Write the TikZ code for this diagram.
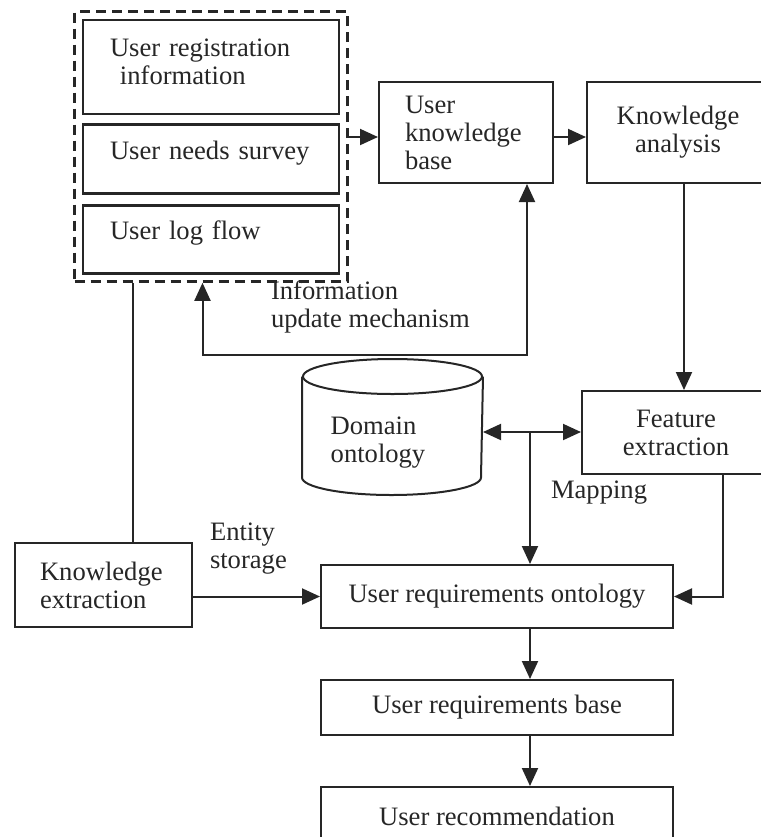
\documentclass[tikz,border=0pt]{standalone}
\usepackage{fontspec}
\setmainfont{Liberation Serif}
\usetikzlibrary{arrows.meta,positioning,fit,calc}

\begin{document}
\begin{tikzpicture}[x=0.5pt,y=0.5pt,>={Triangle[length=9pt,width=8pt]},
  line width=1pt,color=black!85,node distance=25pt,
  font=\fontsize{13.3}{14}\selectfont,
  main node/.style={draw,rectangle,inner sep=0pt,align=center},
  left node/.style={main node,align=left,inner xsep=#1},
  source node/.style={left node=13.5pt,text width=101pt,line width=1.3pt,text depth=9pt},
  group node/.style={draw,dashed,dash pattern=on 5pt off 3pt,line width=1.3pt,inner sep=3.5pt},
  label node/.style={align=left,inner sep=0pt,anchor=west}]
  \useasboundingbox (0,0) rectangle (761,-837);
  \clip (0,0) rectangle (761,-837);

  % user data sources
  \node[source node,minimum height=47pt,text depth=19pt] (reg) at (211,-67)
    {User registration\\\hspace{5pt}information};
  \node[source node,minimum height=34.5pt] (needs) [below=4pt of reg]
    {User needs survey};
  \node[source node,minimum height=34pt] (logf) [below=4.5pt of needs]
    {User log flow};
  \node[group node,fit=(reg)(logf)] (group) {};

  % knowledge chain
  \node[left node=13pt,text width=61pt,minimum height=50.5pt] (ukb) at (466,-132.5)
    {User\\knowledge\\base};
  \node[main node,minimum width=91pt,minimum height=50.5pt] (ka) at (678,-132.5)
    {Knowledge\\analysis};
  \node[main node,minimum width=94pt,minimum height=41.5pt] (fe) at (676,-432.5)
    {Feature\\extraction};

  % domain ontology
  \node[minimum width=89.5pt,minimum height=67pt,inner sep=0pt] (dom) at (392.5,-427) {};
  \draw ($(dom.north)+(0,-17.5)$) ellipse [x radius=89.5,y radius=17.5];
  \draw ($(dom.north west)+(0,-17.5)$) -- ($(dom.south west)+(0,17.5)$)
    arc [start angle=180,end angle=360,x radius=89.5,y radius=17.5]
    -- ($(dom.north east)+(0,-17.5)$);
  \node[align=left,inner sep=0pt] (domtext) at (378,-443) {Domain\\ontology};

  % requirements chain
  \node[left node=12.5pt,text width=63.5pt,minimum height=42pt] (kex) at (103.5,-585)
    {Knowledge\\extraction};
  \node[main node,minimum width=176pt,minimum height=31.5pt] (uro) at (497,-596.5)
    {User requirements ontology};
  \node[main node,minimum width=176pt,minimum height=27.5pt] (urb) [below=of uro]
    {User requirements base};
  \node[main node,minimum width=176pt,minimum height=29pt] (urr) [below=of urb]
    {User recommendation};

  \coordinate (map) at (530,-432);
  \coordinate (grpout) at (346,-137);
  \coordinate (kaout) at ($(ka.south)+(6,0)$);
  \coordinate (feout) at ($(fe.south)+(47,0)$);
  \coordinate (kexout) at ($(kex.north)+(29.5,0)$);
  \coordinate (updin) at ($(group.south)+(-8.5,0)$);
  \coordinate (ukbin) at ($(ukb.south)+(61,0)$);

  % connectors
  \draw[->] (grpout) -- (grpout -| ukb.west);
  \draw[->] (grpout -| ukb.east) -- (grpout -| ka.west);
  \draw[->] (kaout) -- (kaout |- fe.north);
  \draw[<->] (updin) -- ++(0,-72) -| (ukbin);
  \draw[->] (map) -- (map -| dom.east);
  \draw[->] (map) -- (map -| fe.west);
  \draw[->] (map) -- (map |- uro.north);
  \draw[->] (feout) |- (uro.east);
  \draw (kexout) -- (kexout |- group.south);
  \draw[->] (kex.east |- uro.west) -- (uro.west);
  \draw[->] (map |- uro.south) -- (map |- urb.north);
  \draw[->] (map |- urb.south) -- (map |- urr.north);

  % connector labels
  \node[label node] (upd) at (270,-306.5) {Information\\update mechanism};
  \node[label node] (mapl) at (550,-493) {Mapping};
  \node[label node] (ent) at (209,-549) {Entity\\storage};
\end{tikzpicture}
\end{document}
